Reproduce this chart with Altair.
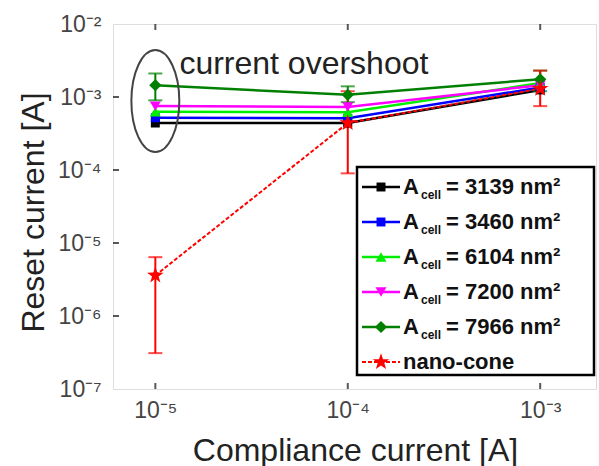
import altair as alt
import pandas as pd

# Compliance current settings [A]
compliance = [1e-5, 1e-4, 1e-3]

# Reset current [A] for each cell area and for the nano-cone device
cell_areas = [3139, 3460, 6104, 7200, 7966]
reset_3139 = [4.4e-4, 4.4e-4, 1.25e-3]
reset_3460 = [5.2e-4, 5.1e-4, 1.35e-3]
reset_6104 = [6.3e-4, 6.2e-4, 1.55e-3]
reset_7200 = [7.5e-4, 7.3e-4, 1.45e-3]
reset_7966 = [1.45e-3, 1.07e-3, 1.75e-3]
reset_cone = [3.6e-6, 4.4e-4, 1.3e-3]

# Error bar limits [A]
err_lo_7966 = [9.0e-4, 8.5e-4, 1.2e-3]
err_hi_7966 = [2.1e-3, 1.4e-3, 2.3e-3]
err_lo_cone = [3.1e-7, 9.0e-5, 7.5e-4]
err_hi_cone = [6.4e-6, 1.2e-3, 2.3e-3]

x_ticks = [1e-5, 1e-4, 1e-3]
y_ticks = [1e-7, 1e-6, 1e-5, 1e-4, 1e-3, 1e-2]

series_keys = ["a3139", "a3460", "a6104", "a7200", "a7966", "cone"]
series_colors = ["#000000", "#0000ff", "#00ee00", "#ff00ff", "#008000", "#ff0000"]
STAR = ("M0,-1L0.235,-0.324L0.951,-0.309L0.38,0.124L0.588,0.809L0,0.4"
        "L-0.588,0.809L-0.38,0.124L-0.951,-0.309L-0.235,-0.324Z")
series_shapes = ["square", "square", "triangle-up", "triangle-down", "diamond", STAR]
series_sizes = [80, 80, 120, 120, 150, 300]

all_values = [reset_3139, reset_3460, reset_6104, reset_7200, reset_7966, reset_cone]
rows = []
for key, vals in zip(series_keys, all_values):
    for xc, v in zip(compliance, vals):
        rows.append({"series": key, "ic": xc, "ir": v})
df = pd.DataFrame(rows)

err_rows = []
for key, lo, hi in [("a7966", err_lo_7966, err_hi_7966), ("cone", err_lo_cone, err_hi_cone)]:
    for xc, a, b in zip(compliance, lo, hi):
        err_rows.append({"series": key, "ic": xc, "lo": a, "hi": b})
err_df = pd.DataFrame(err_rows)

FONT = "Liberation Sans"
W, H = 483, 365

sup = "['⁰','¹','²','³','⁴','⁵','⁶','⁷','⁸','⁹'][-round(log(datum.value)/LN10)]"
label_expr = "'10' + '⁻' + " + sup

x_scale = alt.Scale(type="log", domain=[10 ** -5.22, 10 ** -2.71], nice=False)
y_scale = alt.Scale(type="log", domain=[1e-7, 1e-2], nice=False)
color_scale = alt.Scale(domain=series_keys, range=series_colors)
shape_scale = alt.Scale(domain=series_keys, range=series_shapes)
size_scale = alt.Scale(domain=series_keys, range=series_sizes, type="ordinal")

X = alt.X("ic:Q", scale=x_scale,
          axis=alt.Axis(values=x_ticks, labelExpr=label_expr, title="Compliance current [A]",
                        grid=False, ticks=False, domain=False, labelPadding=10,
                        labelFontSize=23, labelColor="#444", titleFontSize=32,
                        titleFontWeight="normal", titleX=242, titleY=71,
                        titleBaseline="alphabetic", titleColor="#222"))
Y = alt.Y("ir:Q", scale=y_scale,
          axis=alt.Axis(values=y_ticks, labelExpr=label_expr, title="Reset current [A]",
                        grid=False, ticks=False, domain=False, labelPadding=12,
                        labelFontSize=23, labelColor="#444", titleFontSize=32,
                        titleFontWeight="normal", titleX=-80, titleY=188,
                        titleBaseline="middle", titleColor="#222"))
C = alt.Color("series:N", scale=color_scale, legend=None)
S = alt.Size("series:N", scale=size_scale, legend=None)

base = alt.Chart(df)

cells_lines = base.transform_filter("datum.series != 'cone'").mark_line(strokeWidth=2.5).encode(
    x=X, y=Y, color=C, detail="series:N", order="ic:Q")
cone_line = base.transform_filter("datum.series == 'cone'").mark_line(
    strokeWidth=2, strokeDash=[4, 2]).encode(
    x=alt.X("ic:Q", scale=x_scale), y=alt.Y("ir:Q", scale=y_scale), color=C, order="ic:Q")

err_base = alt.Chart(err_df)
err_rules = err_base.mark_rule(strokeWidth=2).encode(
    x=alt.X("ic:Q", scale=x_scale), y=alt.Y("lo:Q", scale=y_scale), y2="hi:Q", color=C)
err_cap_lo = err_base.mark_tick(orient="horizontal", size=14, thickness=2).encode(
    x=alt.X("ic:Q", scale=x_scale), y=alt.Y("lo:Q", scale=y_scale), color=C)
err_cap_hi = err_base.mark_tick(orient="horizontal", size=14, thickness=2).encode(
    x=alt.X("ic:Q", scale=x_scale), y=alt.Y("hi:Q", scale=y_scale), color=C)

points = base.mark_point(filled=True, opacity=1).encode(
    x=alt.X("ic:Q", scale=x_scale), y=alt.Y("ir:Q", scale=y_scale), color=C, size=S,
    shape=alt.Shape("series:N", scale=shape_scale, legend=None))

# "current overshoot" annotation: ellipse around the lowest compliance cluster
ELLIPSE = "M-0.47,0A0.47,1 0 1,1 0.47,0A0.47,1 0 1,1 -0.47,0Z"
note_df = pd.DataFrame({"ic": [1e-5], "ir": [8.8e-4]})
ellipse = alt.Chart(note_df).mark_point(shape=ELLIPSE, size=10404, filled=False,
                                        stroke="#444", strokeWidth=2, opacity=1).encode(
    x=alt.X("ic:Q", scale=x_scale), y=alt.Y("ir:Q", scale=y_scale))
note_text_df = pd.DataFrame({"ic": [10 ** -4.875], "ir": [10 ** -2.685],
                             "t": ["current overshoot"]})
note_text = alt.Chart(note_text_df).mark_text(align="left", baseline="alphabetic",
                                              fontSize=32, font=FONT, color="#222").encode(
    x=alt.X("ic:Q", scale=x_scale), y=alt.Y("ir:Q", scale=y_scale), text="t:N")

# Inward ticks on the frame
ytick_df = pd.DataFrame({"ir": y_ticks[1:-1]})
xtick_df = pd.DataFrame({"ic": x_ticks})
left_ticks = alt.Chart(ytick_df).mark_tick(orient="horizontal", size=6, thickness=2,
                                           color="#111", xOffset=3).encode(
    x=alt.value(0), y=alt.Y("ir:Q", scale=y_scale))
bottom_ticks = alt.Chart(xtick_df).mark_tick(orient="vertical", size=6, thickness=2,
                                             color="#111", yOffset=-3).encode(
    x=alt.X("ic:Q", scale=x_scale), y=alt.value(H))
top_ticks = alt.Chart(xtick_df).mark_tick(orient="vertical", size=6, thickness=2,
                                          color="#111", yOffset=3).encode(
    x=alt.X("ic:Q", scale=x_scale), y=alt.value(0))

main = alt.layer(cells_lines, cone_line, err_rules, err_cap_lo, err_cap_hi, points,
                 ellipse, note_text, left_ticks, bottom_ticks, top_ticks)

# Legend box drawn in the plot's pixel space
legend_labels = [str(a) for a in cell_areas] + ["nano-cone"]
legend_df = pd.DataFrame({
    "series": series_keys,
    "label": legend_labels,
    "row": list(range(len(series_keys))),
})
legend_df["ly"] = 163 + 35 * legend_df["row"]
LY = alt.Y("ly:Q", scale=None, axis=None)

box = alt.Chart(alt.Data(values=[{"k": 1}])).mark_rect(
    fill="white", stroke="#000", strokeWidth=2.5).encode(
    x=alt.value(244), x2=alt.value(481), y=alt.value(143), y2=alt.value(351))
leg_cells = alt.Chart(legend_df)
leg_line = leg_cells.transform_filter("datum.series != 'cone'").mark_rule(strokeWidth=2.5).encode(
    x=alt.value(249), x2=alt.value(287), y=LY, color=C)
leg_line_cone = leg_cells.transform_filter("datum.series == 'cone'").mark_rule(
    strokeWidth=2, strokeDash=[4, 2]).encode(
    x=alt.value(249), x2=alt.value(287), y=LY, color=C)
leg_pt = leg_cells.mark_point(filled=True, opacity=1).encode(
    x=alt.value(268), y=LY, color=C, size=S,
    shape=alt.Shape("series:N", scale=shape_scale, legend=None))
leg_A = leg_cells.transform_filter("datum.series != 'cone'").mark_text(
    align="left", baseline="middle", fontSize=22, fontWeight="bold", font=FONT, color="#111").encode(
    x=alt.value(290), y=LY, text=alt.value("A"))
leg_sub = leg_cells.transform_filter("datum.series != 'cone'").mark_text(
    align="left", baseline="middle", fontSize=12, fontWeight="bold", font=FONT, dy=8,
    color="#111").encode(x=alt.value(308), y=LY, text=alt.value("cell"))
leg_val = leg_cells.transform_filter("datum.series != 'cone'").transform_calculate(
    txt="'= ' + datum.label + ' nm²'").mark_text(
    align="left", baseline="middle", fontSize=22, fontWeight="bold", font=FONT,
    color="#111").encode(x=alt.value(333), y=LY, text="txt:N")
leg_cone = leg_cells.transform_filter("datum.series == 'cone'").mark_text(
    align="left", baseline="middle", fontSize=22, fontWeight="bold", font=FONT,
    color="#111").encode(x=alt.value(290), y=LY, text="label:N")

legend = alt.layer(box, leg_line, leg_line_cone, leg_pt, leg_A, leg_sub, leg_val, leg_cone)

chart = alt.layer(main, legend).resolve_scale(y="independent").properties(
    width=W, height=H,
    autosize=alt.AutoSizeParams(type="none"),
    padding={"left": 113, "top": 24, "right": 3, "bottom": 77},
).configure_view(stroke="#222", strokeWidth=3).configure(
    font=FONT, background="white")

chart.save("out.html", embed_options={"renderer": "svg", "actions": False})
